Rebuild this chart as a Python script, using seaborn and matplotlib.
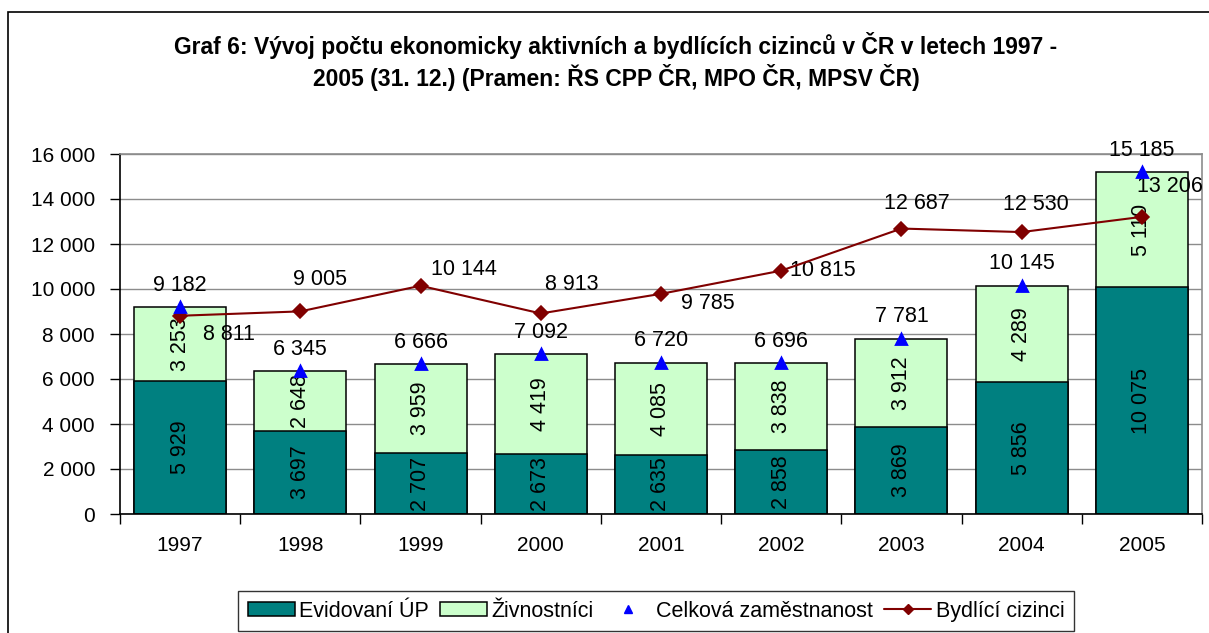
import numpy as np
import pandas as pd
import matplotlib
matplotlib.use('Agg')
import matplotlib.pyplot as plt
from matplotlib.patches import Patch, Rectangle
from matplotlib.lines import Line2D
import seaborn as sns

sns.set_style('white')
plt.rcParams['font.family'] = ['Liberation Sans', 'DejaVu Sans']
plt.rcParams['text.color'] = 'black'
plt.rcParams['xtick.color'] = 'black'
plt.rcParams['ytick.color'] = 'black'
plt.rcParams['axes.labelcolor'] = 'black'

# data
years = ['1997', '1998', '1999', '2000', '2001', '2002', '2003', '2004', '2005']
evidovani = [5929, 3697, 2707, 2673, 2635, 2858, 3869, 5856, 10075]
zivnostnici = [3253, 2648, 3959, 4419, 4085, 3838, 3912, 4289, 5110]
celkova = [9182, 6345, 6666, 7092, 6720, 6696, 7781, 10145, 15185]
bydlici = [8811, 9005, 10144, 8913, 9785, 10815, 12687, 12530, 13206]

# where the "Bydlící cizinci" labels sit relative to their point (pixels)
line_label_offsets = [(49, -19), (20, 32), (43, 16), (31, 29), (47, -10),
                      (42, 0), (15, 25), (14, 28), (28, 30)]

df = pd.DataFrame({'rok': years, 'evidovani': evidovani,
                   'zivnostnici': zivnostnici, 'celkova': celkova,
                   'bydlici': bydlici})
df['soucet'] = df['evidovani'] + df['zivnostnici']

TEAL = '#008080'
LIGHT = '#CCFFCC'
BLUE = '#0000FF'
DARKRED = '#800000'
FS = 15
LFS = 15.5


def fmt(v):
    return f"{v:,}".replace(",", " ")


fig = plt.figure(figsize=(12.09, 6.33), dpi=100)
ax = fig.add_axes([120 / 1209, 1 - 514 / 633, 1082 / 1209, 360 / 633])

sns.barplot(data=df, x='rok', y='soucet', color=LIGHT, saturation=1,
            edgecolor='black', linewidth=1.1, width=0.765, errorbar=None, ax=ax)
sns.barplot(data=df, x='rok', y='evidovani', color=TEAL, saturation=1,
            edgecolor='black', linewidth=1.1, width=0.765, errorbar=None, ax=ax)

sns.pointplot(data=df, x='rok', y='bydlici', color=DARKRED, markers='D',
              markersize=7, linewidth=1.5, errorbar=None, ax=ax, zorder=4)
sns.pointplot(data=df, x='rok', y='celkova', color=BLUE, markers='^',
              linestyles='none', markersize=7.5, errorbar=None, ax=ax, zorder=5)

# segment labels
for i, (e, z) in enumerate(zip(evidovani, zivnostnici)):
    ax.text(i, e / 2, fmt(e), rotation=90, ha='center', va='center', fontsize=LFS)
    ax.text(i, e + z / 2, fmt(z), rotation=90, ha='center', va='center', fontsize=LFS)

# totals above triangles
for i, v in enumerate(celkova):
    ax.annotate(fmt(v), (i, v), xytext=(0, 22), textcoords='offset pixels',
                ha='center', va='center', fontsize=LFS)

# residents labels
for i, v in enumerate(bydlici):
    dx, dy = line_label_offsets[i]
    ax.annotate(fmt(v), (i, v), xytext=(dx, dy), textcoords='offset pixels',
                ha='center', va='center', fontsize=LFS)

ax.set_ylim(0, 16000)
ax.set_xlim(-0.5, len(years) - 0.5)
ax.set_yticks(np.arange(0, 16001, 2000))
ax.set_yticklabels([fmt(v) for v in range(0, 16001, 2000)])
ax.set_xlabel('')
ax.set_ylabel('')
ax.yaxis.grid(True, color='#8c8c8c', linewidth=1)
ax.set_axisbelow(True)
ax.tick_params(axis='y', which='major', direction='out', length=7, width=1,
               color='black', pad=11, labelsize=FS, left=True)
ax.set_xticks(np.arange(-0.5, len(years), 1), minor=True)
ax.tick_params(axis='x', which='major', length=0, pad=16, labelsize=FS)
ax.tick_params(axis='x', which='minor', direction='out', length=7, width=1,
               color='black', bottom=True)
for side in ['left', 'bottom']:
    ax.spines[side].set_color('black')
    ax.spines[side].set_linewidth(1.2)
for side in ['top', 'right']:
    ax.spines[side].set_visible(True)
    ax.spines[side].set_color('#8c8c8c')
    ax.spines[side].set_linewidth(1.2)

fig.text(0.5095, 1 - 61.5 / 633,
         'Graf 6: Vývoj počtu ekonomicky aktivních a bydlících cizinců v ČR v letech 1997 -\n'
         '2005 (31. 12.) (Pramen: ŘS CPP ČR, MPO ČR, MPSV ČR)',
         ha='center', va='center', fontsize=16.5, fontweight='bold', linespacing=1.27)

handles = [
    Patch(facecolor=TEAL, edgecolor='black', linewidth=1.1, label='Evidovaní ÚP'),
    Patch(facecolor=LIGHT, edgecolor='black', linewidth=1.1, label='Živnostníci'),
    Line2D([], [], linestyle='none', marker='^', color=BLUE, markersize=6,
           label='Celková zaměstnanost'),
    Line2D([], [], color=DARKRED, marker='D', markersize=5, linewidth=1.5,
           label='Bydlící cizinci'),
]
leg = fig.legend(handles=handles, loc='upper left',
                 bbox_to_anchor=(238 / 1209, 1 - 591 / 633), ncol=4,
                 frameon=True, fancybox=False, edgecolor='black', fontsize=15.5,
                 handlelength=2.2, handleheight=0.62, handletextpad=0.2,
                 columnspacing=0.5, borderpad=0.45, borderaxespad=0)
leg.get_frame().set_linewidth(1)

fig.patches.append(Rectangle((8 / 1209, -0.2), 1.2, 0.2 + (1 - 12 / 633),
                             transform=fig.transFigure, fill=False,
                             edgecolor='black', linewidth=1.2))

fig.savefig('out.png', dpi=100)
